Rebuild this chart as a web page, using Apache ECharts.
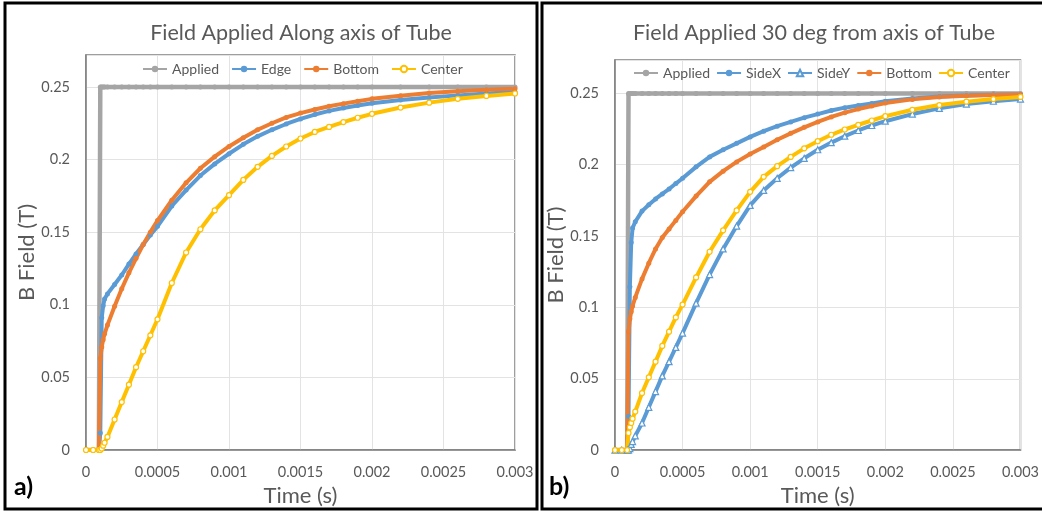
<!DOCTYPE html>
<html>
<head>
<meta charset="utf-8">
<script src="https://cdn.jsdelivr.net/npm/echarts@6/dist/echarts.min.js"></script>
<style>
  html, body { margin: 0; padding: 0; background: #fff; }
  #chart { width: 1042px; height: 512px; }
</style>
</head>
<body>
<div id="chart"></div>
<script>
// time samples (s), shared by every series
const time = [0, 0.00005, 0.00009, 0.0001, 0.00011, 0.00012, 0.00013, 0.00015, 0.0002, 0.00025,
  0.0003, 0.00035, 0.0004, 0.00045, 0.0005, 0.0006, 0.0007, 0.0008, 0.0009, 0.001,
  0.0011, 0.0012, 0.0013, 0.0014, 0.0015, 0.0016, 0.0017, 0.0018, 0.0019, 0.002,
  0.0022, 0.0024, 0.0026, 0.0028, 0.003]

// a) field along axis
const appliedA = [0, 0, 0, 0.25, 0.25, 0.25, 0.25, 0.25, 0.25, 0.25,
  0.25, 0.25, 0.25, 0.25, 0.25, 0.25, 0.25, 0.25, 0.25, 0.25,
  0.25, 0.25, 0.25, 0.25, 0.25, 0.25, 0.25, 0.25, 0.25, 0.25,
  0.25, 0.25, 0.25, 0.25, 0.25]
const edgeA = [0, 0, 0, 0.0117, 0.091, 0.0994, 0.104, 0.1075, 0.114, 0.1205,
  0.128, 0.135, 0.1415, 0.148, 0.154, 0.168, 0.179, 0.189, 0.197, 0.204,
  0.2105, 0.216, 0.2205, 0.2245, 0.228, 0.231, 0.2335, 0.2355, 0.2372, 0.2388,
  0.241, 0.2428, 0.2442, 0.2455, 0.2465]
const bottomA = [0, 0, 0, 0.063, 0.071, 0.076, 0.080, 0.086, 0.099, 0.111,
  0.122, 0.132, 0.1415, 0.150, 0.158, 0.172, 0.184, 0.194, 0.202, 0.209,
  0.215, 0.2205, 0.225, 0.229, 0.232, 0.2345, 0.2367, 0.2385, 0.2402, 0.2418,
  0.244, 0.2458, 0.247, 0.248, 0.2487]
const centerA = [0, 0, 0, 0, 0.001, 0.003, 0.005, 0.009, 0.021, 0.033,
  0.045, 0.057, 0.068, 0.079, 0.090, 0.115, 0.136, 0.152, 0.165, 0.1755,
  0.186, 0.195, 0.2025, 0.209, 0.2145, 0.219, 0.2225, 0.2258, 0.2288, 0.2315,
  0.2358, 0.2392, 0.2418, 0.2438, 0.2455]

// b) field 30 deg from axis
const appliedB = appliedA
const sideXB = [0, 0, 0, 0.0236, 0.1145, 0.1455, 0.1556, 0.160, 0.1675, 0.172,
  0.176, 0.1795, 0.183, 0.1868, 0.1905, 0.1985, 0.2055, 0.2105, 0.215, 0.2195,
  0.2235, 0.227, 0.230, 0.233, 0.2355, 0.238, 0.240, 0.2415, 0.243, 0.2445,
  0.2465, 0.2478, 0.2485, 0.249, 0.2492]
const sideYB = [0, 0, 0, 0, 0.001, 0.004, 0.006, 0.010, 0.019, 0.030,
  0.041, 0.052, 0.062, 0.072, 0.082, 0.103, 0.123, 0.141, 0.157, 0.1715,
  0.182, 0.1905, 0.198, 0.2045, 0.2105, 0.2155, 0.220, 0.224, 0.2275, 0.2305,
  0.2355, 0.2395, 0.2425, 0.2445, 0.246]
const bottomB = [0, 0, 0, 0.083, 0.092, 0.097, 0.101, 0.107, 0.120, 0.131,
  0.141, 0.149, 0.155, 0.161, 0.167, 0.178, 0.188, 0.1955, 0.202, 0.2075,
  0.2125, 0.2175, 0.222, 0.2262, 0.230, 0.2335, 0.2365, 0.239, 0.2412, 0.2432,
  0.2458, 0.2474, 0.2484, 0.2489, 0.2492]
const centerB = [0, 0, 0, 0.012, 0.016, 0.019, 0.022, 0.027, 0.040, 0.051,
  0.062, 0.073, 0.083, 0.093, 0.102, 0.121, 0.139, 0.154, 0.168, 0.181,
  0.1915, 0.199, 0.2055, 0.2115, 0.2165, 0.221, 0.2247, 0.228, 0.231, 0.234,
  0.2385, 0.2418, 0.2442, 0.246, 0.2475]

const xTicks = ['0', '0.0005', '0.001', '0.0015', '0.002', '0.0025', '0.003']
const yTicks = ['0', '0.05', '0.1', '0.15', '0.2', '0.25']

const FONT = 'Lato'
const GRAY = '#595959'
const C_GRAY = '#A5A5A5'
const C_BLUE = '#5B9BD5'
const C_ORANGE = '#ED7D31'
const C_YELLOW = '#FFC000'

function pairs(vals) {
  return time.map((t, i) => [t, vals[i]])
}

function line(name, vals, idx, color, symbol, hollow, width) {
  return {
    name: name,
    type: 'line',
    xAxisIndex: idx,
    yAxisIndex: idx,
    data: pairs(vals),
    symbol: symbol,
    symbolSize: symbol === 'triangle' ? 6 : 5,
    showSymbol: true,
    lineStyle: { color: color, width: width || 4 },
    itemStyle: hollow
      ? { color: '#fff', borderColor: color, borderWidth: 1.2 }
      : { color: color, borderColor: color, borderWidth: 0 },
    emphasis: { disabled: true }
  }
}

function xAxis(idx, gap) {
  return {
    type: 'value', gridIndex: idx, min: 0, max: 0.003, interval: 0.0005,
    name: 'Time (s)', nameLocation: 'middle', nameGap: gap,
    nameTextStyle: { fontFamily: FONT, fontSize: 22, color: GRAY },
    axisLine: { show: true, lineStyle: { color: '#7f7f7f', width: 1.5 } },
    axisTick: { show: false },
    axisLabel: {
      fontFamily: FONT, fontSize: 14.5, color: GRAY, margin: 15,
      formatter: v => {
        const s = parseFloat(v.toFixed(4)).toString()
        return xTicks.indexOf(s) >= 0 ? s : ''
      }
    },
    splitLine: { show: true, lineStyle: { color: '#e3e3e3', width: 1 } }
  }
}

function yAxis(idx, max) {
  return {
    type: 'value', gridIndex: idx, min: 0, max: max, interval: 0.05,
    name: 'B Field (T)', nameLocation: 'middle', nameGap: 43,
    nameTextStyle: { fontFamily: FONT, fontSize: 22, color: GRAY },
    axisLine: { show: true, lineStyle: { color: '#7f7f7f', width: 1.5 } },
    axisTick: { show: false },
    axisLabel: {
      fontFamily: FONT, fontSize: 14.5, color: GRAY, margin: 16, showMaxLabel: false,
      formatter: v => {
        const s = parseFloat(v.toFixed(2)).toString()
        return yTicks.indexOf(s) >= 0 ? s : ''
      }
    },
    splitLine: { show: true, lineStyle: { color: '#e3e3e3', width: 1 } }
  }
}

const chart = echarts.init(document.getElementById('chart'))
chart.setOption({
  animation: false,
  backgroundColor: '#fff',
  title: [
    { text: 'Field Applied Along axis of Tube', left: 296, top: 17, textAlign: 'center',
      textStyle: { fontFamily: FONT, fontSize: 21.5, fontWeight: 'normal', color: GRAY } },
    { text: 'Field Applied 30 deg from axis of Tube', left: 809, top: 17, textAlign: 'center',
      textStyle: { fontFamily: FONT, fontSize: 21.5, fontWeight: 'normal', color: GRAY } }
  ],
  legend: [
    { data: ['Applied', 'Edge', 'Bottom', 'Center'], left: 137, top: 57,
      itemWidth: 24, itemHeight: 8, itemGap: 12,
      textStyle: { fontFamily: FONT, fontSize: 14, color: GRAY } },
    { data: ['Applied', 'SideX', 'SideY', 'Bottom', 'Center'], left: 628, top: 61,
      itemWidth: 24, itemHeight: 8, itemGap: 6,
      textStyle: { fontFamily: FONT, fontSize: 14, color: GRAY } }
  ],
  grid: [
    { left: 86, top: 55, width: 429, height: 395, show: true, borderColor: '#7f7f7f', borderWidth: 1.5 },
    { left: 615, top: 60, width: 415, height: 397, show: true, borderColor: '#7f7f7f', borderWidth: 1.5 }
  ],
  xAxis: [xAxis(0, 33), xAxis(1, 28)],
  yAxis: [yAxis(0, 0.272), yAxis(1, 0.2734)],
  series: [
    line('Applied', appliedA, 0, C_GRAY, 'circle', false, 4.5),
    line('Edge', edgeA, 0, C_BLUE, 'circle', false),
    line('Bottom', bottomA, 0, C_ORANGE, 'circle', false),
    line('Center', centerA, 0, C_YELLOW, 'circle', true),
    line('Applied', appliedB, 1, C_GRAY, 'circle', false, 4.5),
    line('SideX', sideXB, 1, C_BLUE, 'circle', false),
    line('SideY', sideYB, 1, C_BLUE, 'triangle', true),
    line('Bottom', bottomB, 1, C_ORANGE, 'circle', false),
    line('Center', centerB, 1, C_YELLOW, 'circle', true)
  ],
  graphic: [
    { type: 'rect', shape: { x: 5, y: 3, width: 532, height: 506 },
      style: { fill: 'none', stroke: '#000', lineWidth: 3 } },
    { type: 'rect', shape: { x: 542, y: 3, width: 504, height: 506 },
      style: { fill: 'none', stroke: '#000', lineWidth: 3 } },
    { type: 'text', left: 14, top: 474,
      style: { text: 'a)', font: 'bold 25px ' + FONT, fill: '#000' } },
    { type: 'text', left: 549, top: 474,
      style: { text: 'b)', font: 'bold 25px ' + FONT, fill: '#000' } }
  ]
})
</script>
</body>
</html>
